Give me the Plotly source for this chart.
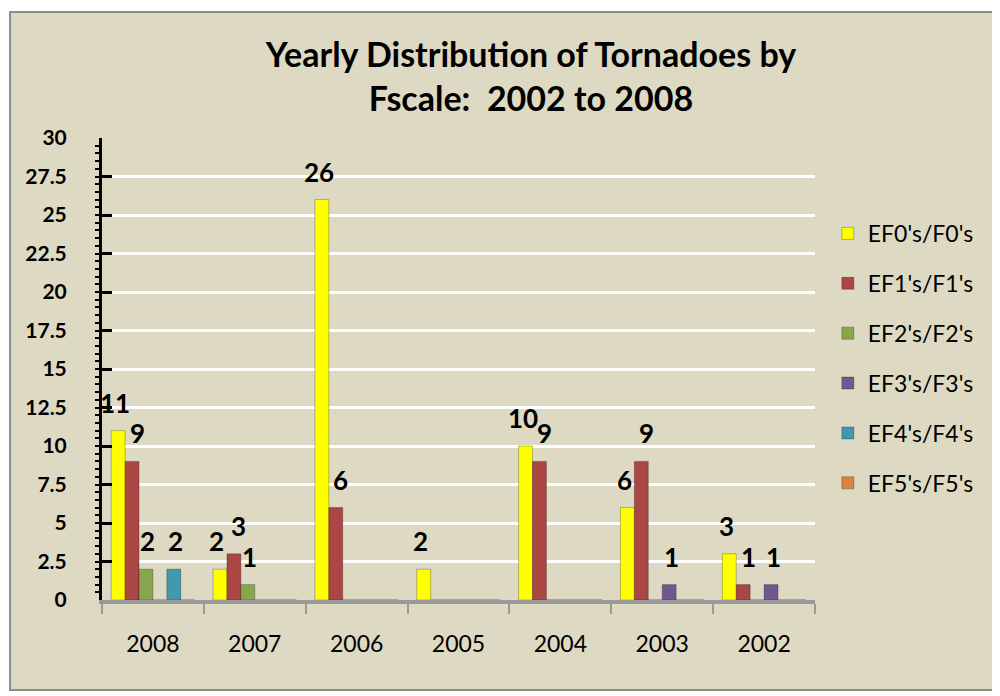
import plotly.graph_objects as go

years = ["2008", "2007", "2006", "2005", "2004", "2003", "2002"]
series_names = ["EF0's/F0's", "EF1's/F1's", "EF2's/F2's", "EF3's/F3's", "EF4's/F4's", "EF5's/F5's"]
ef0 = [11, 2, 26, 2, 10, 6, 3]
ef1 = [9, 3, 6, 0, 9, 9, 1]
ef2 = [2, 1, 0, 0, 0, 0, 0]
ef3 = [0, 0, 0, 0, 0, 1, 1]
ef4 = [2, 0, 0, 0, 0, 0, 0]
ef5 = [0, 0, 0, 0, 0, 0, 0]
series_values = [ef0, ef1, ef2, ef3, ef4, ef5]
colors = ["#FFFF00", "#AA4643", "#89A54E", "#71588F", "#4198AF", "#DB843D"]
y_ticks = [0, 2.5, 5, 7.5, 10, 12.5, 15, 17.5, 20, 22.5, 25, 27.5, 30]

FONT = "Lato"
W, H = 1000, 696
ML, MR, MT, MB = 94, 193, 130, 104
BARGAP = 0.18
plot_w = W - ML - MR
bar_px = plot_w / len(years) * (1 - BARGAP) / len(series_names)
label_dx = [-3, 5, 2, 2, 2, 2]

fig = go.Figure()
annotations = []
for i, (name, vals, col) in enumerate(zip(series_names, series_values, colors)):
    fig.add_trace(go.Bar(
        x=years, y=vals, name=name, legendgroup=name,
        marker=dict(color=col, line=dict(color="rgba(0,0,0,0.25)", width=1)),
        cliponaxis=False,
    ))
    for j, v in enumerate(vals):
        if v:
            annotations.append(dict(
                x=j, y=v, xref="x", yref="y", text=f"<b>{v}</b>", showarrow=False,
                xanchor="center", yanchor="bottom",
                xshift=(i - (len(series_names) - 1) / 2) * bar_px + label_dx[i],
                yshift=10,
                font=dict(family=FONT, size=26, color="black"),
            ))

fig.update_layout(
    width=W, height=H,
    margin=dict(l=ML, r=MR, t=MT, b=MB, autoexpand=False),
    paper_bgcolor="white",
    plot_bgcolor="rgba(0,0,0,0)",
    barmode="group", bargap=BARGAP, bargroupgap=0,
    title=dict(text="<b>Yearly Distribution of Tornadoes by<br>Fscale:  2002 to 2008</b>",
               x=0.523, xanchor="center", y=0.915, yanchor="middle",
               font=dict(family=FONT, size=34, color="black")),
    font=dict(family=FONT, color="black"),
    legend=dict(x=1.018, y=0.84, xanchor="left", yanchor="top",
                font=dict(family=FONT, size=23, color="black"),
                tracegroupgap=17, bgcolor="rgba(0,0,0,0)", itemwidth=30),
    xaxis=dict(type="category", categoryorder="array", categoryarray=years,
               range=[-0.5, len(years) - 0.5],
               showline=True, linecolor="#999999", linewidth=4,
               ticks="outside", tickson="boundaries", ticklen=10, tickcolor="#999999", tickwidth=2,
               tickfont=dict(family=FONT, size=23, color="black"), ticklabelstandoff=20),
    yaxis=dict(range=[0, 30], tickvals=y_ticks, ticktext=[f"{v:g}" for v in y_ticks],
               showline=True, linecolor="black", linewidth=3,
               ticks="inside", ticklen=10, tickwidth=3, tickcolor="black",
               minor=dict(dtick=0.5, ticks="outside", ticklen=4, tickwidth=2, tickcolor="black", showgrid=False),
               showgrid=True, gridcolor="white", gridwidth=2.5, zeroline=False,
               ticklabelstandoff=28,
               tickfont=dict(family=FONT, size=21, color="black", weight="bold")),
    annotations=annotations,
    shapes=[dict(type="rect", xref="paper", yref="paper",
                 x0=-0.129, x1=1.2497, y0=-0.1948, y1=1.2727,
                 fillcolor="#DDD9C3", line=dict(color="#8C8C8C", width=2), layer="below")],
)

fig.write_html("out.html")
